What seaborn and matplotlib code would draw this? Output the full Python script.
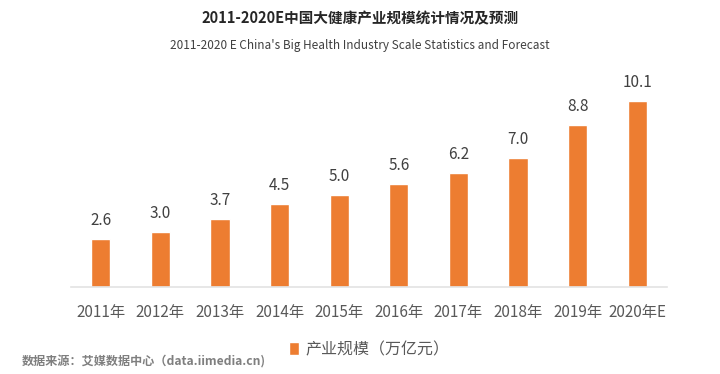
import matplotlib
matplotlib.use('Agg')
from matplotlib import pyplot as plt
import pandas as pd
import seaborn as sns

years = ['2011年', '2012年', '2013年', '2014年', '2015年', '2016年', '2017年', '2018年', '2019年', '2020年E']
scale = [2.6, 3.0, 3.7, 4.5, 5.0, 5.6, 6.2, 7.0, 8.8, 10.1]
series_name = '产业规模（万亿元）'

title = '2011-2020E中国大健康产业规模统计情况及预测'
subtitle = "2011-2020 E China's Big Health Industry Scale Statistics and Forecast"
source = '数据来源：艾媒数据中心（data.iimedia.cn)'

sns.set_theme(style='white')
plt.rcParams['font.family'] = ['Noto Sans CJK SC', 'DejaVu Sans']

df = pd.DataFrame({'year': years, 'scale': scale})

fig = plt.figure(figsize=(7.2, 3.74), dpi=100)
ax = fig.add_axes([0.0986, 0.2326, 0.8278, 0.59])

sns.barplot(data=df, x='year', y='scale', color='#ED7D31', saturation=1,
            width=0.32, label=series_name, ax=ax)

for i, v in enumerate(scale):
    ax.text(i, v + 0.55, f'{v:.1f}', ha='center', va='bottom', fontsize=11, color='#404040')

ax.set_ylim(0, 12)
ax.set_xlim(-0.5, 9.5)
ax.set_xlabel('')
ax.set_ylabel('')
ax.set_yticks([])
for s in ['left', 'right', 'top']:
    ax.spines[s].set_visible(False)
ax.spines['bottom'].set_color('#E3E3E3')
ax.spines['bottom'].set_linewidth(1.2)
ax.tick_params(axis='x', length=0, pad=12, labelsize=11, labelcolor='#595959')

ax.legend(loc='upper center', bbox_to_anchor=(0.5, -0.18), frameon=False,
          fontsize=11.5, labelcolor='#595959', handlelength=0.6, handleheight=0.9,
          handletextpad=0.4)

fig.text(0.5, 0.952, title, ha='center', va='center', fontsize=10.5, fontweight='bold', color='#262626')
fig.text(0.5, 0.878, subtitle, ha='center', va='center', fontsize=8.5, color='#404040')
fig.text(0.03, 0.032, source, ha='left', va='center', fontsize=8.7, fontweight='bold', color='#7F7F7F')

fig.savefig('out.png', dpi=100)
